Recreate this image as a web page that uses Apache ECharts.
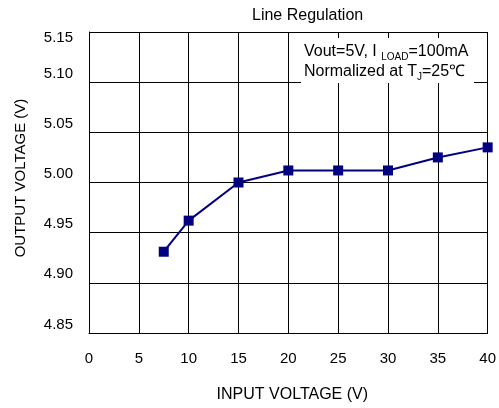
<!DOCTYPE html>
<html>
<head>
<meta charset="utf-8">
<script src="https://cdn.jsdelivr.net/npm/echarts@6/dist/echarts.min.js"></script>
<style>
  html, body { margin: 0; padding: 0; background: #fff; }
  #chart { width: 499px; height: 408px; }
</style>
</head>
<body>
<div id="chart"></div>
<script>
// input voltage (V) vs output voltage (V)
var inputVoltage = [7.5, 10, 15, 20, 25, 30, 35, 40];
var outputVoltage = [4.931, 4.962, 5.000, 5.012, 5.012, 5.012, 5.025, 5.035];
var xTicks = [0, 5, 10, 15, 20, 25, 30, 35, 40];
var yTicks = [4.85, 4.90, 4.95, 5.00, 5.05, 5.10, 5.15];

var font = '"Liberation Sans", Arial, sans-serif';

var points = [];
for (var i = 0; i < inputVoltage.length; i++) {
    points.push([inputVoltage[i], outputVoltage[i]]);
}

var yMax = yTicks[yTicks.length - 1];

var chart = echarts.init(document.getElementById('chart'));
var option = {
    animation: false,
    backgroundColor: '#fff',
    textStyle: { fontFamily: font },
    grid: { left: 89, top: 32, right: 10, bottom: 75, containLabel: false },
    xAxis: {
        type: 'value',
        min: xTicks[0],
        max: xTicks[xTicks.length - 1],
        interval: 5,
        name: 'INPUT VOLTAGE (V)',
        nameLocation: 'middle',
        nameGap: 54,
        nameTextStyle: { fontSize: 16, color: '#000', fontFamily: font, padding: [0, 0, 0, 8] },
        axisLine: { show: true, lineStyle: { color: '#000', width: 1 } },
        axisTick: { show: false },
        axisLabel: { fontSize: 15, color: '#000', margin: 18, fontFamily: font },
        splitLine: { show: true, lineStyle: { color: '#000', width: 1 } }
    },
    yAxis: {
        type: 'value',
        min: yTicks[0],
        max: yMax,
        interval: 0.05,
        name: 'OUTPUT VOLTAGE (V)',
        nameLocation: 'middle',
        nameGap: 61,
        nameTextStyle: { fontSize: 15, color: '#000', fontFamily: font, padding: [0, 0, 0, 9] },
        axisLine: { show: true, lineStyle: { color: '#000', width: 1 } },
        axisTick: { show: false },
        axisLabel: {
            fontSize: 15, color: '#000', margin: 16, fontFamily: font,
            formatter: function (v) {
                // top label sits just under the frame, the rest float above their grid line
                if (Math.abs(v - yMax) < 1e-6) return '{t|' + v.toFixed(2) + '}';
                return '{b|' + v.toFixed(2) + '}';
            },
            rich: {
                t: { fontSize: 15, fontFamily: font, color: '#000', padding: [11, 0, 0, 0] },
                b: { fontSize: 15, fontFamily: font, color: '#000', padding: [0, 0, 17, 0] }
            }
        },
        splitLine: { show: true, lineStyle: { color: '#000', width: 1 } }
    },
    series: [{
        type: 'line',
        data: points,
        symbol: 'rect',
        symbolSize: 10,
        showAllSymbol: true,
        lineStyle: { color: '#000080', width: 2 },
        itemStyle: { color: '#000080', borderWidth: 0 },
        z: 5
    }],
    graphic: [
        {
            type: 'text',
            left: 252,
            top: 8,
            style: { text: 'Line Regulation', fill: '#000', font: '16px ' + font }
        },
        {
            type: 'rect',
            shape: { x: 301, y: 38, width: 173, height: 45 },
            style: { fill: '#fff' },
            z: 10
        },
        {
            type: 'text',
            x: 304,
            y: 42,
            z: 11,
            style: {
                text: '{n|Vout=5V, I }{s|LOAD}{n|=100mA}\n{n|Normalized at T}{s|J}{n|=25\u2103}',
                fill: '#000',
                fontFamily: font,
                rich: {
                    n: { fontSize: 16, lineHeight: 20, fontFamily: font, fill: '#000', verticalAlign: 'middle' },
                    s: { fontSize: 10, lineHeight: 20, fontFamily: font, fill: '#000', verticalAlign: 'bottom' }
                }
            }
        }
    ]
};
chart.setOption(option);
</script>
</body>
</html>
